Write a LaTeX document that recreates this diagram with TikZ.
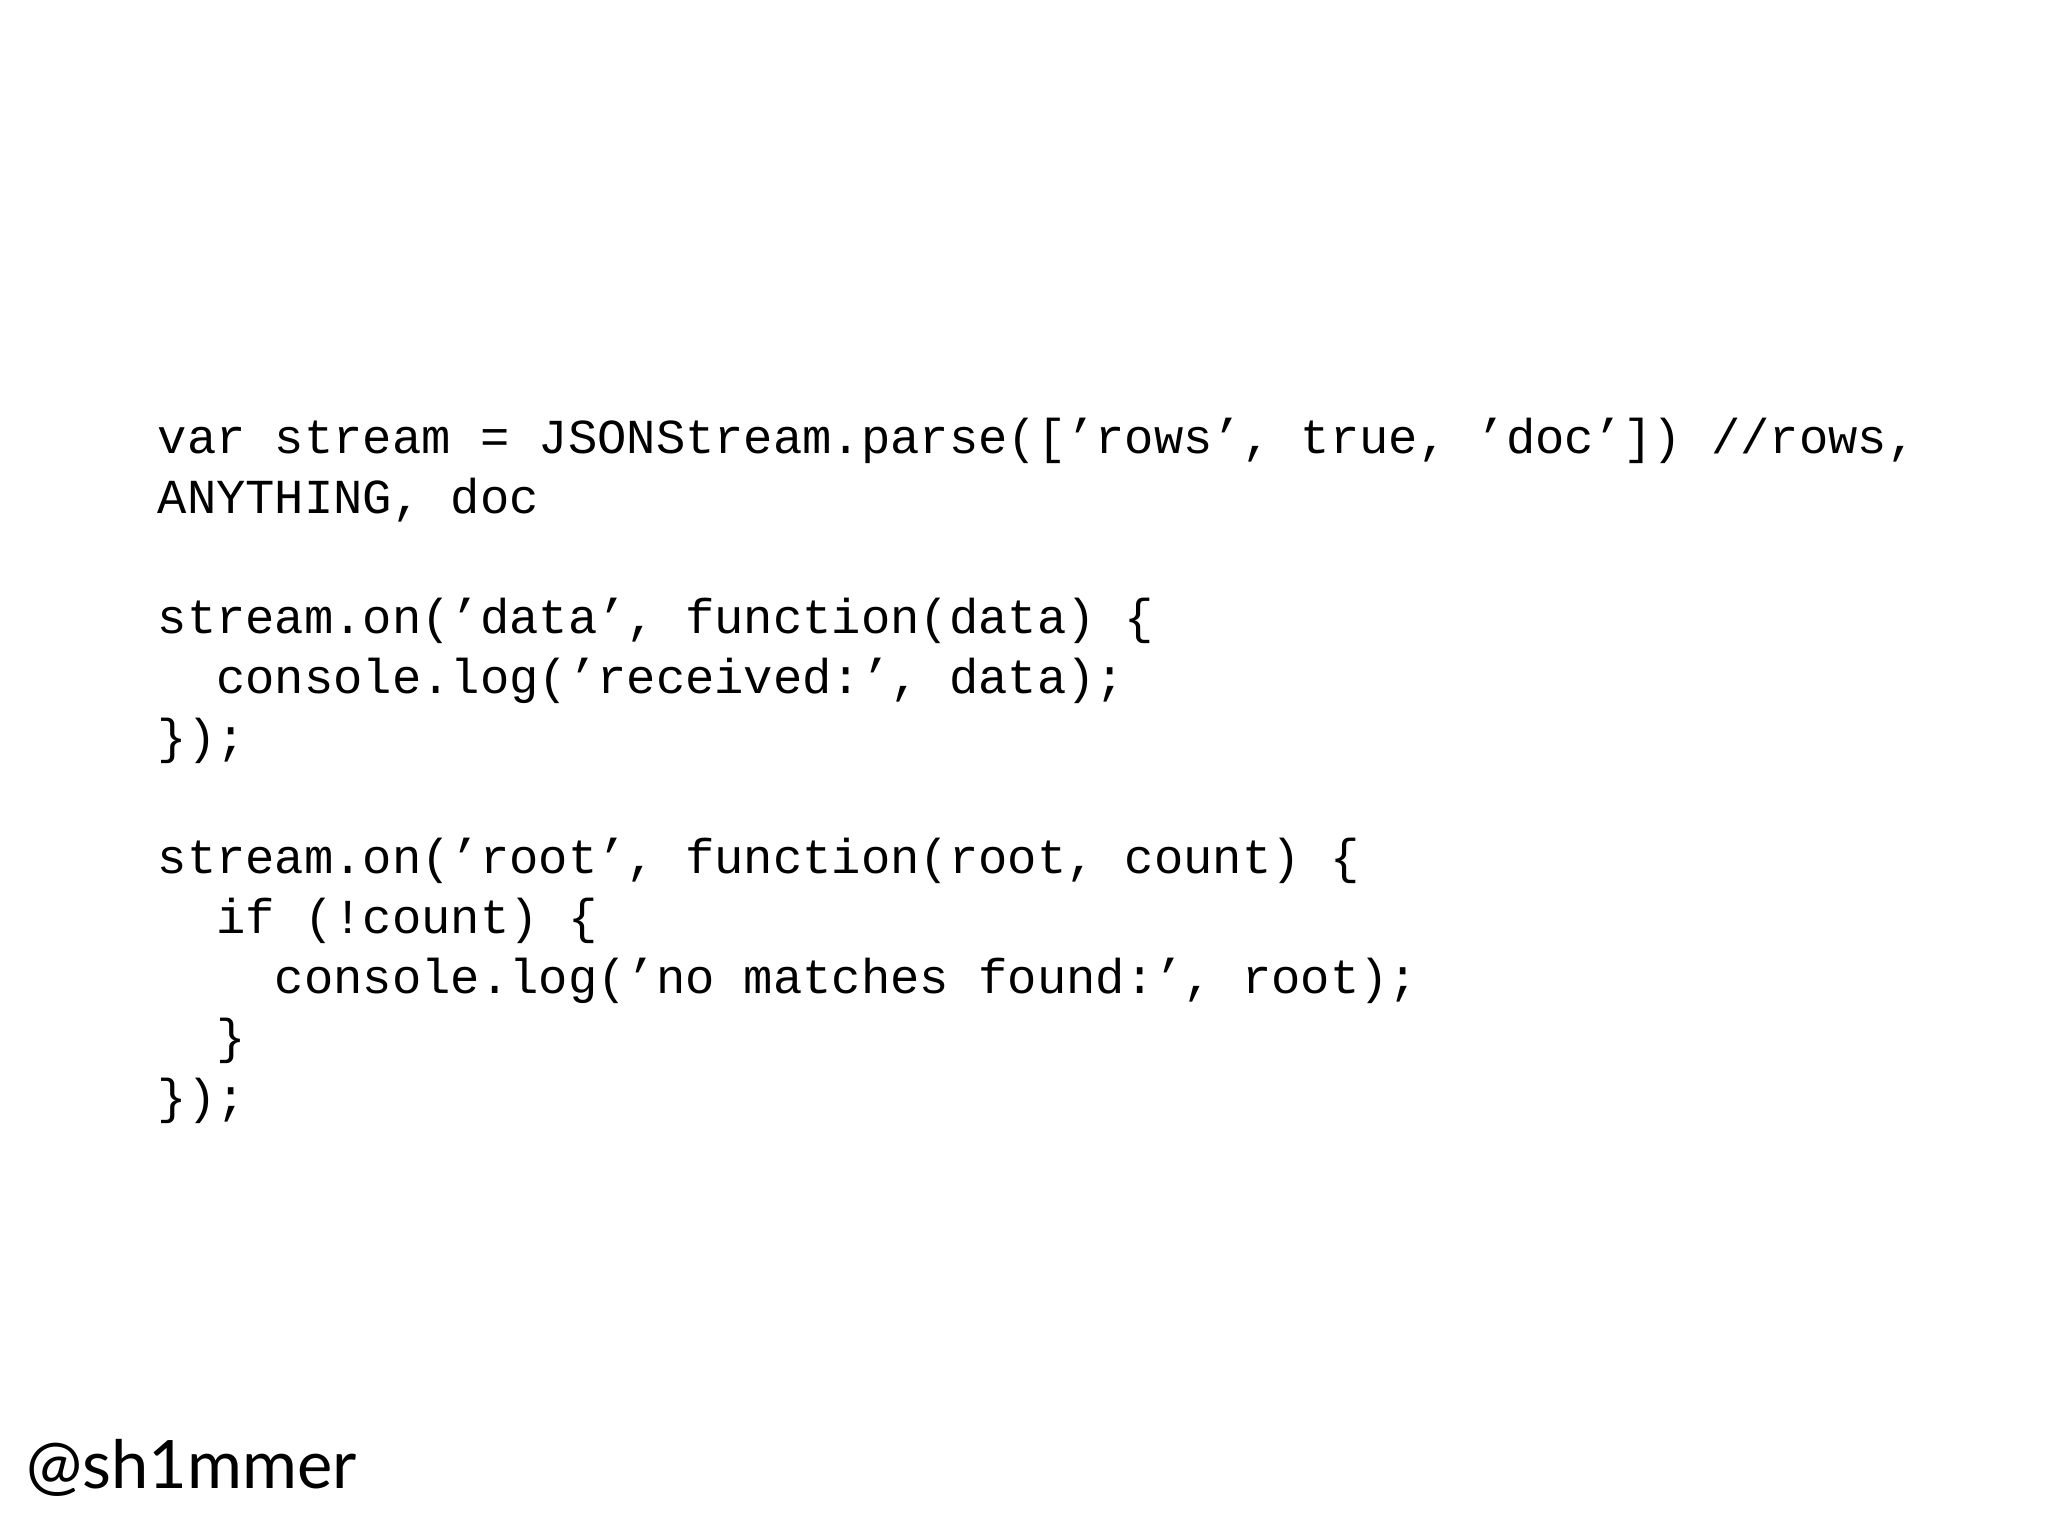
\documentclass[tikz,border=0pt]{standalone}
\usepackage{fontspec}
\setmonofont{Liberation Mono}
\newfontfamily\handle{Lato}
\begin{document}
\begin{tikzpicture}[codeline/.style={anchor=base west,inner sep=0pt,font=\ttfamily\fontsize{13.9pt}{17pt}\selectfont}]
\useasboundingbox[fill=white] (0,0) rectangle (20.48,15.36);
\node[codeline] (l0) at (1.57,10.82) {var stream = JSONStream.parse([’rows’, true, ’doc’]) //rows,};
\node[codeline] (l1) at (1.57,10.22) {ANYTHING, doc};
\node[codeline] (l3) at (1.57,9.02) {stream.on(’data’, function(data) \{};
\node[codeline] (l4) at (1.57,8.42) {\ \ console.log(’received:’, data);};
\node[codeline] (l5) at (1.57,7.82) {\});};
\node[codeline] (l7) at (1.57,6.62) {stream.on(’root’, function(root, count) \{};
\node[codeline] (l8) at (1.57,6.02) {\ \ if (!count) \{};
\node[codeline] (l9) at (1.57,5.42) {\ \ \ \ console.log(’no matches found:’, root);};
\node[codeline] (l10) at (1.57,4.82) {\ \ \}};
\node[codeline] (l11) at (1.57,4.22) {\});};
\node[anchor=base west,inner sep=0pt,font=\handle\fontsize{19pt}{22pt}\selectfont] (h) at (0.26,0.47) {@sh1mmer};
\end{tikzpicture}
\end{document}
